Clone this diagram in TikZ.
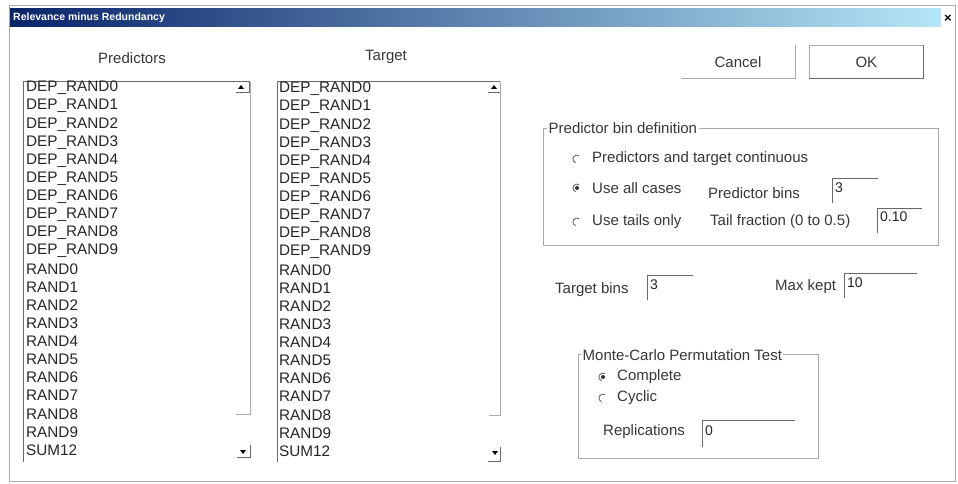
\documentclass[tikz,border=0pt]{standalone}
\usepackage{fontspec}
\setmainfont{Liberation Sans}
\usetikzlibrary{positioning}
\definecolor{bar_dark}{RGB}{10,36,106}
\definecolor{bar_light}{RGB}{180,230,246}
\definecolor{frame_gray}{RGB}{170,170,170}
\definecolor{edge_dark}{RGB}{105,105,105}
\definecolor{label_gray}{RGB}{55,55,55}
\tikzstyle{ui_label} = [font=\fontsize{15}{17}\selectfont, text=label_gray, inner sep=0pt, anchor=west]
\tikzstyle{list_item} = [font=\fontsize{15.3}{17}\selectfont, text=black!85, inner sep=0pt, anchor=west]
\tikzstyle{edit_text} = [font=\fontsize{14}{16}\selectfont, text=black!85, inner sep=0pt, anchor=west]
\tikzstyle{group_title} = [ui_label, fill=white, inner sep=1.5pt]
\tikzstyle{group_frame} = [draw=frame_gray, line width=0.8pt]
\tikzstyle{edit_line} = [draw=edge_dark, line width=1pt]
\tikzstyle{sunken_line} = [draw=edge_dark, line width=1pt]
\tikzstyle{light_line} = [draw=frame_gray, line width=1pt]
\tikzstyle{radio_arc} = [draw=edge_dark, line width=0.9pt]
\tikzstyle{push_button} = [rectangle, minimum width=114pt, minimum height=33pt, font=\fontsize{15}{17}\selectfont, text=label_gray]

\begin{document}
\begin{tikzpicture}[x=1pt, y=-1pt]
    \useasboundingbox (0,0) rectangle (958,484);
    \fill[white] (0,0) rectangle (958,484);

    % window and title bar
    \draw[frame_gray] (9,5) rectangle (955,481);
    \fill[left color=bar_dark, right color=bar_light] (10,9) rectangle (941,27);
    \node (title) [anchor=west, inner sep=0pt, text=white, font=\fontsize{10.5}{12}\selectfont\bfseries] at (13,18) {Relevance minus Redundancy};
    \node (close) [inner sep=0pt, font=\fontsize{13}{14}\selectfont\bfseries] at (948,19) {×};

    % list headers
    \node (pred_head) [ui_label, anchor=center] at (132,58) {Predictors};
    \node (targ_head) [ui_label, anchor=center] at (386,57) {Target};

    % predictors list
    \draw[sunken_line] (23,462) -- (23,82) -- (250,82);
    \draw[light_line] (250,82) -- (250,414) -- (236,414);
    \fill[black] (241,85) -- (238,89) -- (244,89) -- cycle;
    \draw[edge_dark] (236,92.5) -- (249,92.5) -- (249,82);
    \fill[black] (243,454) -- (240,450) -- (246,450) -- cycle;
    \draw[edge_dark] (237,457.5) -- (250,457.5) -- (250,445);
    \foreach \nm [count=\i from 0] in {DEP\_RAND0, DEP\_RAND1, DEP\_RAND2, DEP\_RAND3, DEP\_RAND4, DEP\_RAND5, DEP\_RAND6, DEP\_RAND7, DEP\_RAND8, DEP\_RAND9, RAND0, RAND1, RAND2, RAND3, RAND4, RAND5, RAND6, RAND7, RAND8, RAND9, SUM12}
        \node (pred\i) [list_item] at (26,{88+18.1*\i}) {\nm};

    % target list
    \draw[sunken_line] (277,462) -- (277,82) -- (500,82);
    \draw[light_line] (500,82) -- (500,415) -- (489,415);
    \fill[black] (494,85) -- (491,89) -- (497,89) -- cycle;
    \draw[edge_dark] (488,92.5) -- (500,92.5);
    \fill[black] (495,455) -- (492,451) -- (498,451) -- cycle;
    \draw[edge_dark] (488,461) -- (500,461) -- (500,447);
    \foreach \nm [count=\i from 0] in {DEP\_RAND0, DEP\_RAND1, DEP\_RAND2, DEP\_RAND3, DEP\_RAND4, DEP\_RAND5, DEP\_RAND6, DEP\_RAND7, DEP\_RAND8, DEP\_RAND9, RAND0, RAND1, RAND2, RAND3, RAND4, RAND5, RAND6, RAND7, RAND8, RAND9, SUM12}
        \node (targ\i) [list_item] at (279,{89+18.1*\i}) {\nm};

    % buttons
    \node (cancel) [push_button] at (738,62) {Cancel};
    \draw[frame_gray, line width=1.2pt] (cancel.south west) -- (cancel.south east) -- (cancel.north east);
    \node (ok) [push_button, right=14pt of cancel] {OK};
    \draw[frame_gray, line width=0.8pt] (ok.south west) rectangle (ok.north east);
    \draw[edge_dark, line width=1.2pt] (ok.south west) -- (ok.south east) -- (ok.north east);

    % predictor bin definition
    \draw[group_frame] (543,128) rectangle (938,245);
    \node (pbd_title) [group_title] at (547,128) {Predictor bin definition};
    \draw[radio_arc] (577,159) +(300:4) arc (300:110:4);
    \node (r_cont) [ui_label] at (592,159) {Predictors and target continuous};
    \draw[radio_arc] (577,188) +(300:4) arc (300:110:4);
    \fill[black!80] (577,188) circle (2);
    \node (r_all) [ui_label] at (592,188) {Use all cases};
    \node (pbins_lbl) [ui_label] at (708,193) {Predictor bins};
    \draw[edit_line] (832,203) |- (878,178);
    \node (pbins) [edit_text] at (835,188) {3};
    \draw[radio_arc] (577,222) +(300:4) arc (300:110:4);
    \node (r_tails) [ui_label] at (592,222) {Use tails only};
    \node (tail_lbl) [ui_label] at (710,222) {Tail fraction (0 to 0.5)};
    \draw[edit_line] (877,233) |- (922,208);
    \node (tailfrac) [edit_text] at (880,217) {0.10};

    % target bins and max kept
    \node (tbins_lbl) [ui_label] at (555,290) {Target bins};
    \draw[edit_line] (647,300) |- (693,275);
    \node (tbins) [edit_text] at (650,285) {3};
    \node (kept_lbl) [ui_label] at (775,287) {Max kept};
    \draw[edit_line] (844,298) |- (917,273);
    \node (maxkept) [edit_text] at (847,283) {10};

    % monte-carlo permutation test
    \draw[group_frame] (578,354) rectangle (818,458);
    \node (mc_title) [group_title] at (581,355) {Monte-Carlo Permutation Test};
    \draw[radio_arc] (603,377) +(300:4) arc (300:110:4);
    \fill[black!80] (603,377) circle (2);
    \node (r_complete) [ui_label] at (617,377) {Complete};
    \draw[radio_arc] (603,398) +(300:4) arc (300:110:4);
    \node (r_cyclic) [ui_label] at (617,398) {Cyclic};
    \node (repl_lbl) [ui_label] at (603,432) {Replications};
    \draw[edit_line] (702,447) |- (795,420);
    \node (repl) [edit_text] at (705,431) {0};
\end{tikzpicture}
\end{document}
